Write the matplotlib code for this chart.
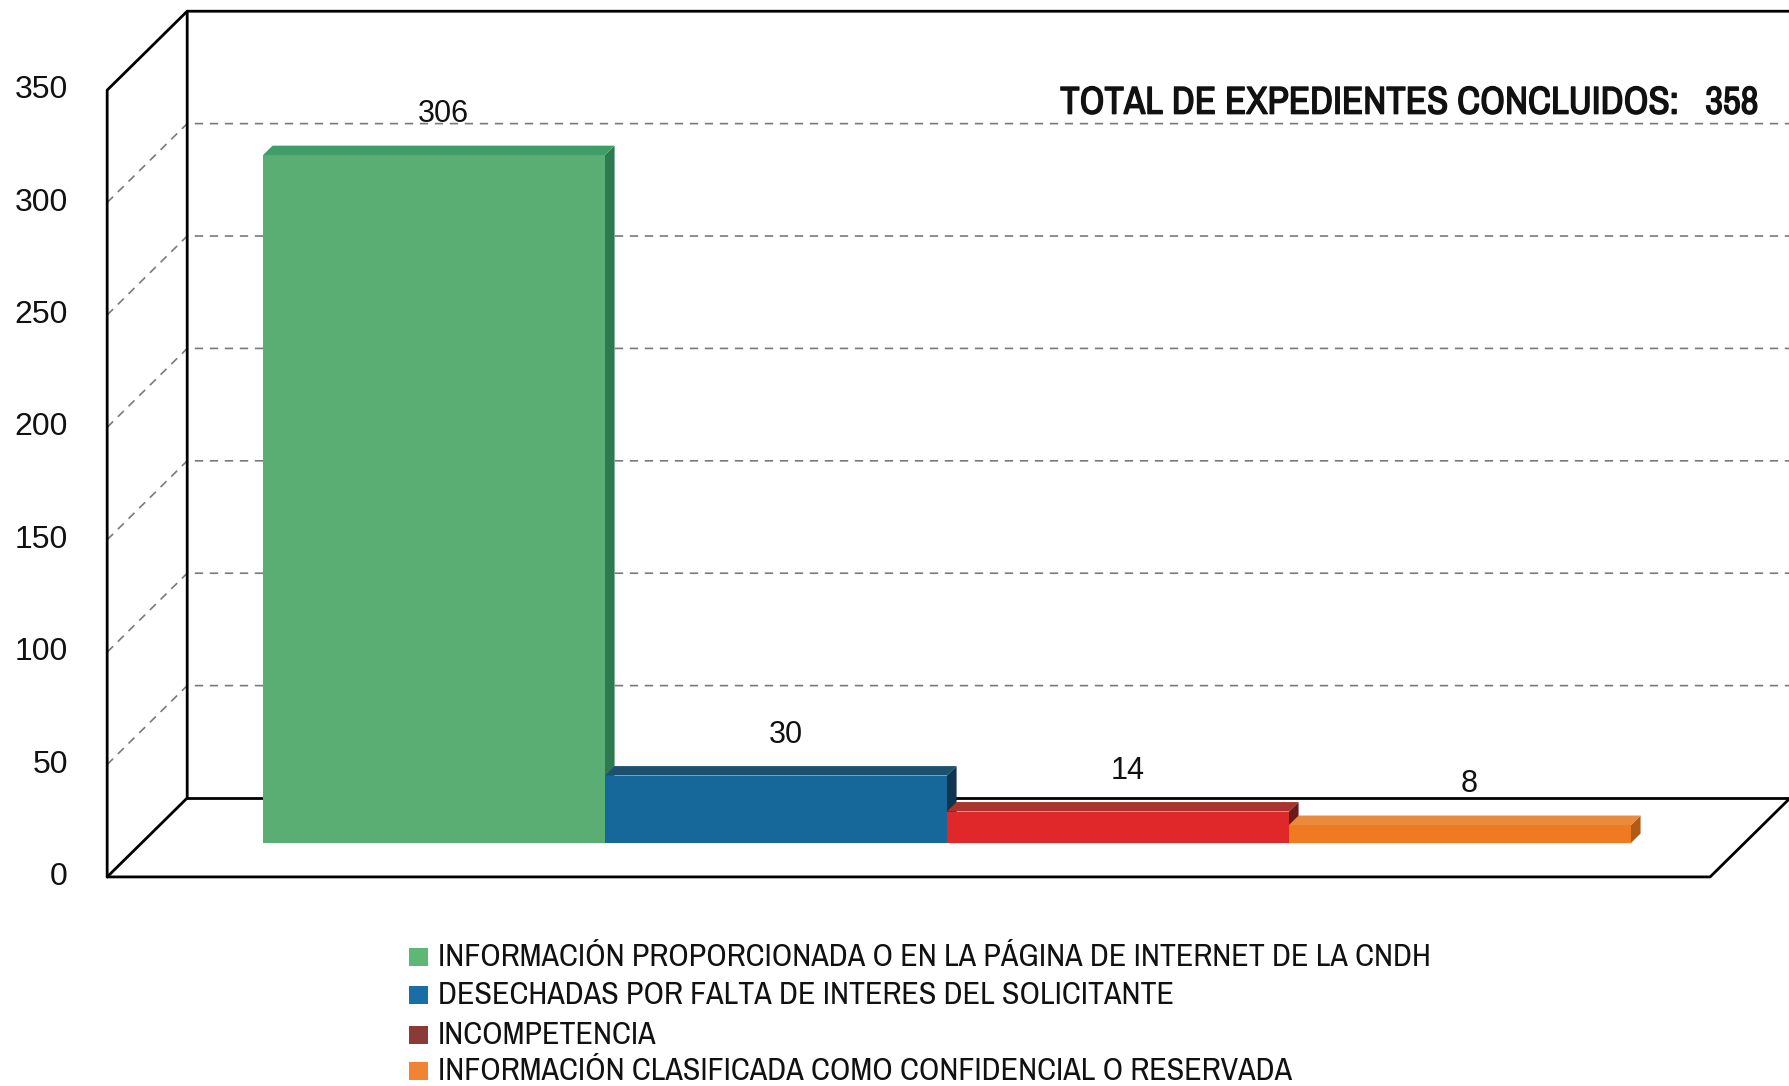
import matplotlib
matplotlib.use("Agg")
import matplotlib.pyplot as plt
import matplotlib.patheffects as pe
from matplotlib import font_manager
from matplotlib.patches import Polygon, Rectangle

categories = [
    "INFORMACIÓN PROPORCIONADA O EN LA PÁGINA DE INTERNET DE LA CNDH",
    "DESECHADAS POR FALTA DE INTERES DEL SOLICITANTE",
    "INCOMPETENCIA",
    "INFORMACIÓN CLASIFICADA COMO CONFIDENCIAL O RESERVADA",
]
values = [306, 30, 14, 8]
total = 358
y_ticks = [0, 50, 100, 150, 200, 250, 300, 350]

front_colors = ["#5aae74", "#16689a", "#e0282a", "#f07a22"]
top_colors = ["#3f9d68", "#1d4f6e", "#a83430", "#ea8a3c"]
side_colors = ["#2e7a50", "#0f3550", "#6a1a18", "#b35a18"]
legend_colors = ["#5cb874", "#1a6ea6", "#8c3a38", "#f08433"]

REGULAR = ["Liberation Sans", "DejaVu Sans"]


def narrow_font():
    # prefer an installed narrow face; report whether it ships a bold weight
    names = [e.name for e in font_manager.fontManager.ttflist if "Narrow" in e.name]
    if names:
        name = names[0]
        has_bold = any(e.name == name and e.weight in (600, 700, "bold")
                       for e in font_manager.fontManager.ttflist)
        return [name, "Liberation Sans"], has_bold, 23
    return REGULAR, True, 19


NARROW, NARROW_HAS_BOLD, LEGEND_SIZE = narrow_font()

# pseudo-3d box: depth t runs from front (0) to back wall (1)
DX = 0.234
DY = 35.1
T_BAR = 0.43
T_THICK = 0.12
X_LEFT = -0.855
X_RIGHT = 3.832
V_TOP = 350


def proj(x, v, t):
    return x + (t - T_BAR) * DX, v + (t - T_BAR) * DY


def line3d(ax, pts, **kw):
    xs, ys = zip(*[proj(*p) for p in pts])
    ax.plot(xs, ys, **kw)


def bar_top(i, v):
    x0, x1 = i - 0.5, i + 0.5
    t0, t1 = T_BAR, T_BAR + T_THICK
    return [proj(x0, v, t0), proj(x1, v, t0), proj(x1, v, t1), proj(x0, v, t1)]


def bar_side(i, v):
    x1 = i + 0.5
    t0, t1 = T_BAR, T_BAR + T_THICK
    return [proj(x1, 0, t0), proj(x1, v, t0), proj(x1, v, t1), proj(x1, 0, t1)]


fig = plt.figure(figsize=(17.9, 10.86), dpi=100)
ax = fig.add_axes([0, 0, 1, 1])
ax.set_xlim(-1.269, 3.965)
ax.set_ylim(-108.1, 375.0)
ax.axis("off")

frame = dict(color="black", lw=2.0, solid_capstyle="round", zorder=2)
grid = dict(color="#7a7a7a", lw=1.2, ls=(0, (5, 4)), zorder=1)

# gridlines on side wall and back wall
for v in y_ticks[1:-1]:
    line3d(ax, [(X_LEFT, v, 0), (X_LEFT, v, 1), (X_RIGHT, v, 1)], **grid)

# walls and floor outline
line3d(ax, [(X_LEFT, 0, 0), (X_LEFT, V_TOP, 0), (X_LEFT, V_TOP, 1), (X_RIGHT, V_TOP, 1)], **frame)
line3d(ax, [(X_LEFT, 0, 0), (X_LEFT, 0, 1), (X_LEFT, V_TOP, 1)], **frame)
line3d(ax, [(X_LEFT, 0, 1), (X_RIGHT, 0, 1), (X_RIGHT, V_TOP, 1)], **frame)
line3d(ax, [(X_LEFT, 0, 0), (X_RIGHT, 0, 0), (X_RIGHT, 0, 1)], **frame)

# y tick labels on the front edge
for v in y_ticks:
    x, y = proj(X_LEFT, v, 0)
    ax.text(x - 0.115, y, str(v), ha="right", va="center",
            fontsize=23, family=REGULAR, color="#111111")

# bars: front faces through ax.bar, top and side faces as polygons;
# each bar sits over the side face of the one before it
positions = list(range(len(values)))
fronts = ax.bar(positions, values, width=1.0, bottom=0, color=front_colors,
                edgecolor="none")
for i, v in enumerate(values):
    z = 3 + i
    fronts[i].set_zorder(z + 0.5)
    ax.add_patch(Polygon(bar_side(i, v), closed=True, facecolor=side_colors[i],
                         edgecolor="none", zorder=z))
    ax.add_patch(Polygon(bar_top(i, v), closed=True, facecolor=top_colors[i],
                         edgecolor="none", zorder=z + 0.6))
    lx, ly = proj(i, v + 14, T_BAR + T_THICK)
    ax.text(lx, ly, str(v), ha="center", va="center", fontsize=22,
            family=REGULAR, color="#111111", zorder=10)

title_effects = [] if NARROW_HAS_BOLD else [pe.withStroke(linewidth=1.0, foreground="#111111")]
ax.text(0.982, 0.905, f"TOTAL DE EXPEDIENTES CONCLUIDOS:   {total}",
        transform=ax.transAxes, ha="right", va="center", fontsize=28,
        fontweight="bold", color="#111111", family=NARROW,
        path_effects=title_effects)

# legend
legend_y = [0.119, 0.084, 0.047, 0.014]
for label, color, ly in zip(categories, legend_colors, legend_y):
    ax.add_patch(Rectangle((0.2285, ly - 0.0085), 0.0105, 0.017, transform=ax.transAxes,
                           facecolor=color, edgecolor="none"))
    ax.text(0.2445, ly, label, transform=ax.transAxes, ha="left", va="center",
            fontsize=LEGEND_SIZE, color="#111111", family=NARROW)

fig.savefig("out.png", dpi=100, facecolor="white")
